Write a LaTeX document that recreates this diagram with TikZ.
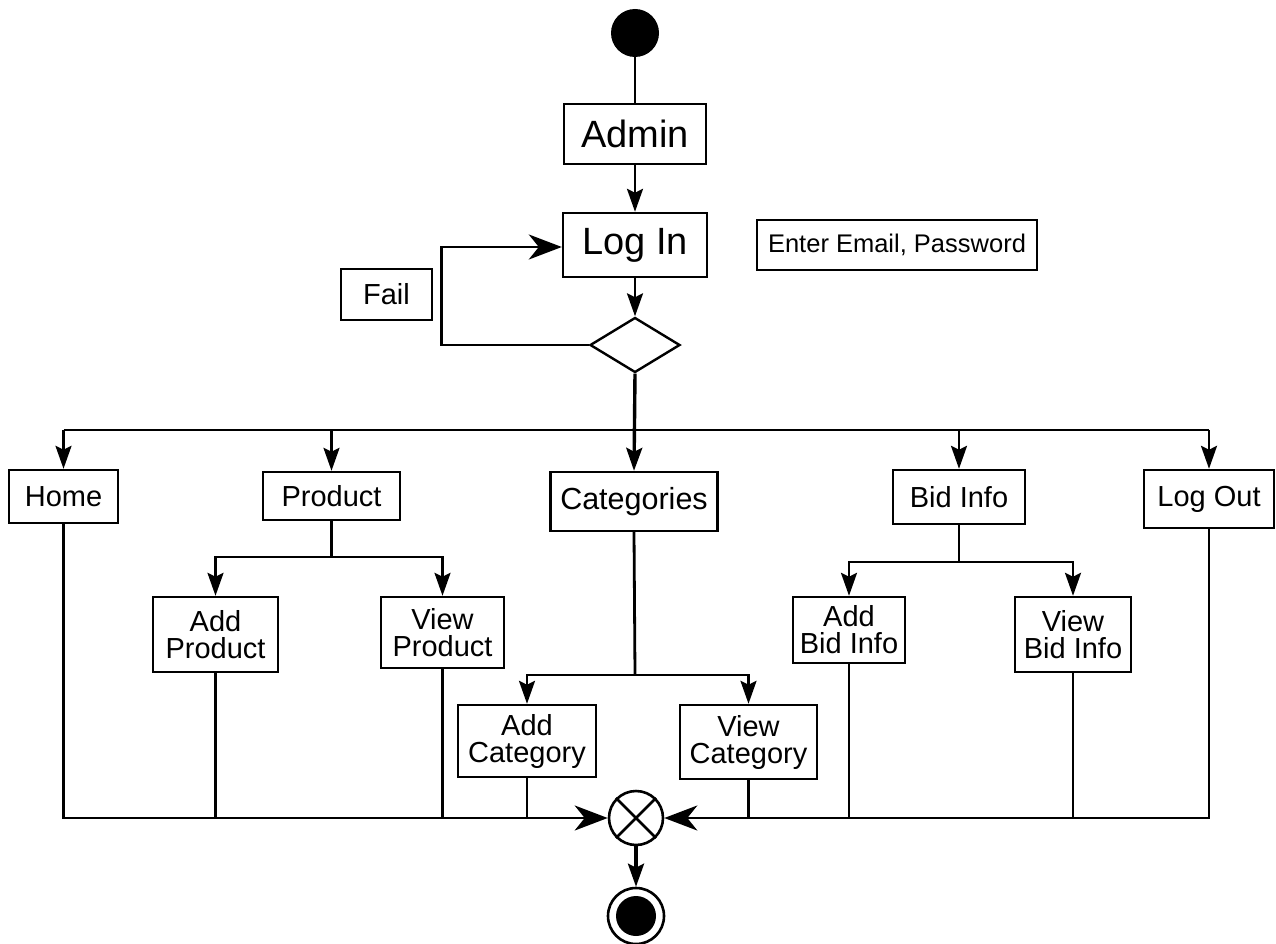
\documentclass[tikz,border=0pt]{standalone}
\usepackage{fontspec}
\setmainfont{Liberation Sans}
\usetikzlibrary{arrows.meta,shapes.geometric}

\tikzset{
  box/.style={draw, line width=2.4pt, inner sep=0pt, align=center,
    font=\fontsize{29}{27}\selectfont},
  bigbox/.style={box, font=\fontsize{38}{40}\selectfont},
  flow/.style={line width=2.8pt},
  arr/.style={flow, -{Stealth[length=23pt,width=16pt,inset=4pt]}},
  bigarr/.style={flow, -{Stealth[length=33pt,width=25pt,inset=10pt]}},
}

\begin{document}
\begin{tikzpicture}[x=1pt,y=-1pt]
\useasboundingbox (0,0) rectangle (1276,944);

% start, login and decision
\node[circle, fill=black, minimum size=48pt, inner sep=0pt] (start) at (635,33) {};
\node[bigbox, minimum width=142, minimum height=60] (admin) at (635,134) {Admin};
\node[bigbox, minimum width=144, minimum height=64] (login) at (635,245) {Log In};
\node[box, minimum width=280, minimum height=50, font=\fontsize{25.5}{30}\selectfont] (enter) at (897,245) {Enter Email, Password};
\node[box, minimum width=91, minimum height=51] (fail) at (386.5,294.5) {Fail};
\node[diamond, draw, line width=2.4pt, minimum width=90pt, minimum height=55pt, inner sep=0pt] (dec) at (635,345) {};

% menu entries
\node[box, minimum width=109, minimum height=53] (home) at (63.5,496.5) {Home};
\node[box, minimum width=137, minimum height=48] (product) at (331.5,496) {Product};
\node[box, minimum width=167, minimum height=59, font=\fontsize{30.5}{30}\selectfont] (cat) at (634,501.5) {Categories};
\node[box, minimum width=132, minimum height=54] (bid) at (959,497) {Bid Info};
\node[box, minimum width=130, minimum height=58] (logout) at (1209,499) {Log Out};

% sub entries
\node[box, minimum width=125, minimum height=75] (addprod) at (215.5,634.5) {Add\\Product};
\node[box, minimum width=123, minimum height=71] (viewprod) at (442.5,632.5) {View\\Product};
\node[box, minimum width=138, minimum height=72] (addcat) at (527,741) {Add\\Category};
\node[box, minimum width=137, minimum height=74] (viewcat) at (748.5,742) {View\\Category};
\node[box, minimum width=112, minimum height=66] (addbid) at (849,630) {Add\\Bid Info};
\node[box, minimum width=116, minimum height=75] (viewbid) at (1073,634.5) {View\\Bid Info};

% merge and end
\node[circle, draw, line width=2.6pt, minimum size=54pt, inner sep=0pt] (merge) at (636,818) {};
\draw[line width=2.6pt] (merge.north east) -- (merge.south west);
\draw[line width=2.6pt] (merge.north west) -- (merge.south east);
\node[circle, draw, line width=2.6pt, minimum size=56pt, inner sep=0pt] (end) at (636,916) {};
\fill (end.center) circle (20pt);

% split points
\coordinate (bus) at (635,430);
\coordinate (psplit) at (331.5,557);
\coordinate (csplit) at (635,675);
\coordinate (bsplit) at (959,562);

% top flow
\draw[flow] (start) -- (admin);
\draw[arr] (admin) -- (login);
\draw[arr] (login) -- (dec);
\draw[bigarr] (dec.west) -- ++(-147,0) |- ([yshift=-2pt]login.west);
\draw[arr, line width=3.4pt] (dec.south) -- (cat.north);

% menu bus
\draw[flow] (home.north |- bus) -- (logout.north |- bus);
\foreach \n in {home,product,bid,logout}
  \draw[arr] (\n.north |- bus) -- (\n.north);

% sub-menu splits
\draw[flow] (product.south) -- (psplit);
\draw[arr] (psplit) -| (addprod.north);
\draw[arr] (psplit) -| (viewprod.north);
\draw[flow] (cat.south) -- (csplit);
\draw[arr] (csplit) -| (addcat.north);
\draw[arr] (csplit) -| (viewcat.north);
\draw[flow] (bid.south) -- (bsplit);
\draw[arr] (bsplit) -| (addbid.north);
\draw[arr] (bsplit) -| (viewbid.north);

% joins into the merge node
\draw[bigarr] (home.south) |- (merge.west);
\draw[bigarr] (logout.south) |- (merge.east);
\foreach \n in {addprod,viewprod,addcat,viewcat,addbid,viewbid}
  \draw[flow] (\n.south) -- (\n.south |- merge.center);
\draw[arr, line width=3.4pt] (merge) -- (end);
\end{tikzpicture}
\end{document}
